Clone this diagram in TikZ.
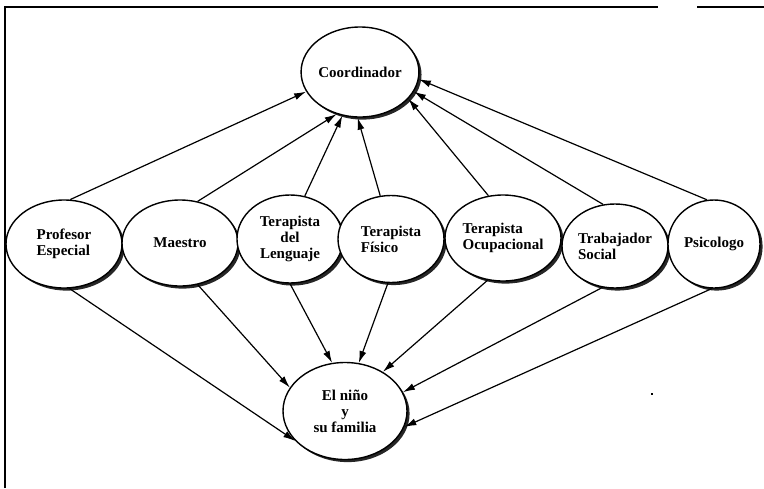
\documentclass[tikz,border=0pt]{standalone}
\usepackage{fontspec}
\setmainfont{Liberation Serif}
\usetikzlibrary{shapes.geometric,arrows.meta,shadows}
\begin{document}
\begin{tikzpicture}[x=1pt,y=-1pt,
  role/.style={ellipse,draw,line width=1.4pt,fill=white,inner sep=0pt,
    align=center,font=\fontsize{15}{16}\selectfont\bfseries,
    drop shadow={shadow xshift=2.6pt,shadow yshift=-2.6pt,fill=black!85,opacity=1}},
  arr/.style={line width=1.2pt,-{Latex[length=12pt,width=7pt]}},
  frameline/.style={line width=1.5pt}]
\useasboundingbox (0,0) rectangle (764,488);

% scanned frame (left and top edges only)
\draw[frameline] (5,488) -- (5,7) -- (658,7);
\draw[line width=1.1pt] (697,7) -- (764,7);
\fill (651,393) rectangle (653,395);

% nodes
\node[role,minimum width=112pt,minimum height=90pt] (coord) at (360,72) {Coordinador};

\node[role,minimum width=116pt,minimum height=88pt,align=left] (prof) at (64,244) {Profesor\\Especial};
\node[role,minimum width=116pt,minimum height=86pt] (maes) at (180,243) {Maestro};
\node[role,minimum width=106pt,minimum height=88pt] (leng) at (290,239) {Terapista\\del\\Lenguaje};
\node[role,minimum width=106pt,minimum height=87pt,align=left] (fis) at (391,239) {Terapista\\Físico};
\node[role,minimum width=116pt,minimum height=86pt,align=left] (ocup) at (503,238) {Terapista\\Ocupacional};
\node[role,minimum width=106pt,minimum height=84pt,align=left] (trab) at (615,246) {Trabajador\\Social};
\node[role,minimum width=92pt,minimum height=88pt] (psic) at (714,244) {Psicologo};

\node[role,minimum width=124pt,minimum height=97pt] (nino) at (345,411) {El niño\\y\\su familia};

% links up to the coordinator
\draw[arr] (prof.82)  -- (coord.200);
\draw[arr] (maes.67)  -- (coord.241);
\draw[arr] (leng.71)  -- (coord.248);
\draw[arr] (fis.104)  -- (coord.267);
\draw[arr] (ocup.109) -- (coord.331);
\draw[arr] (trab.106) -- (coord.340);
\draw[arr] (psic.99)  -- (coord.353);

% links down to the child and family
\draw[arr] (prof.277) -- (nino.211);
\draw[arr] (maes.293) -- (nino.157);
\draw[arr] (leng.270) -- (nino.105);
\draw[arr] (fis.266)  -- (nino.74);
\draw[arr] (ocup.250) -- (nino.46);
\draw[arr] (trab.253) -- (nino.18);
\draw[arr] (psic.267) -- (nino.345);
\end{tikzpicture}
\end{document}
